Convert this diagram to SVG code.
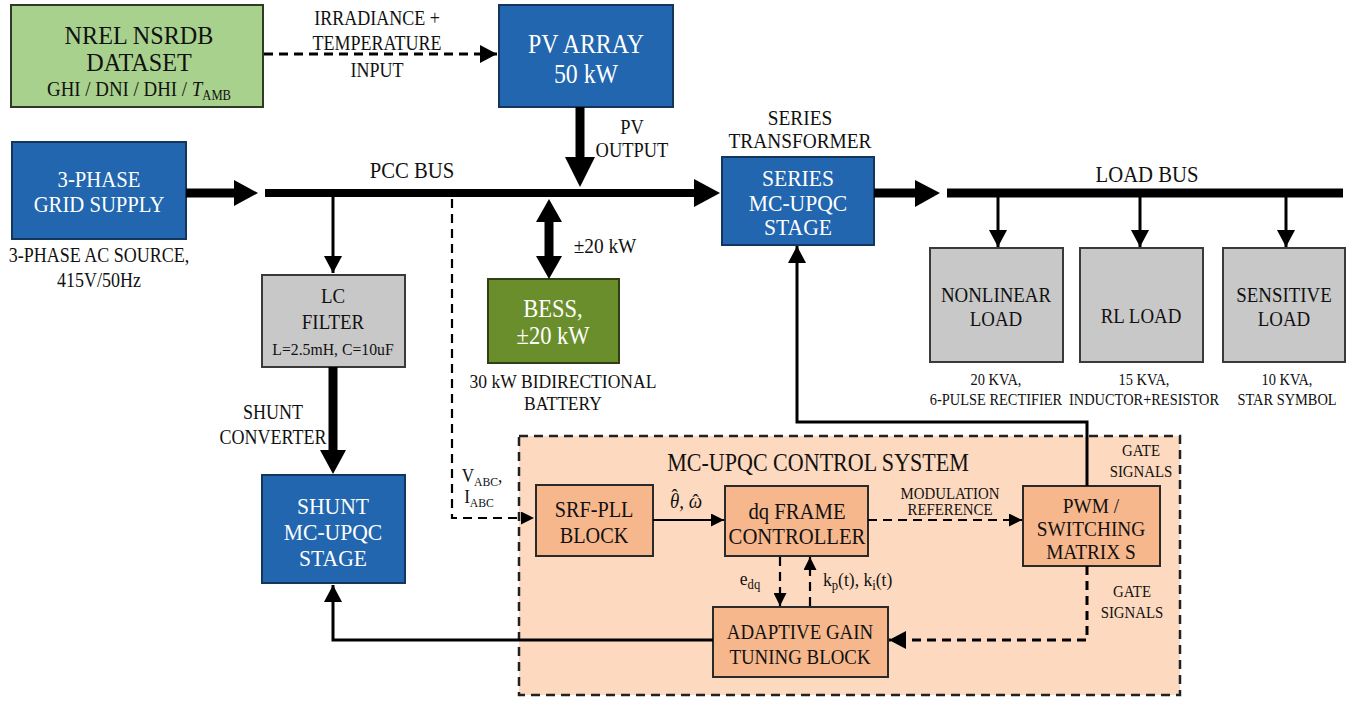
<svg xmlns="http://www.w3.org/2000/svg" width="1354" height="703" viewBox="0 0 1354 703">
<style>
.t{font-family:"Liberation Serif","Times New Roman",serif;fill:#111;text-anchor:middle}
.w{fill:#fff}
.blue{fill:#2166ae;stroke:#15365c;stroke-width:2}
.gray{fill:#c8c8c8;stroke:#3a3a3a;stroke-width:2}
.peach{fill:#f7b78c;stroke:#2a2a2a;stroke-width:2}
.ln{fill:none;stroke:#000}
.thick{stroke-width:9}
.thin{stroke-width:3}
.th2{stroke-width:2.2}
.dash{stroke-dasharray:9 6}
.hd{fill:#000}
</style>
<defs>
<marker id="ah" viewBox="0 0 17 18" refX="17" refY="9" markerWidth="17" markerHeight="18" markerUnits="userSpaceOnUse" orient="auto"><path d="M0,0 L17,9 L0,18 z" fill="#000"/></marker>
<marker id="as" viewBox="0 0 13 13" refX="13" refY="6.5" markerWidth="13" markerHeight="13" markerUnits="userSpaceOnUse" orient="auto"><path d="M0,0 L13,6.5 L0,13 z" fill="#000"/></marker>
</defs>
<rect width="1354" height="703" fill="#fff"/>

<g id="control-system">
<rect x="519" y="436" width="661" height="259" fill="#fdd9bf" stroke="#222" stroke-width="2.5" stroke-dasharray="9 6"/>
<text class="t" font-size="24.5" transform="translate(818,0) scale(.9,1)"><tspan x="0" y="471">MC-UPQC CONTROL SYSTEM</tspan></text>
</g>

<g id="nrel">
<rect x="11" y="5" width="252" height="102" fill="#a9d18e" stroke="#2e3a26" stroke-width="2"/>
<text class="t" font-size="26" transform="translate(139,0) scale(.93,1)"><tspan x="0" y="44">NREL NSRDB</tspan><tspan x="0" y="71">DATASET</tspan></text>
<text class="t" font-size="21" transform="translate(139,0) scale(.9,1)"><tspan x="0" y="96">GHI / DNI / DHI / <tspan font-style="italic">T</tspan><tspan font-size="14" dy="4">AMB</tspan></tspan></text>
</g>

<g id="pv-array">
<rect x="499" y="5" width="174" height="102" class="blue"/>
<text class="t w" font-size="26.5" transform="translate(586,0) scale(.9,1)"><tspan x="0" y="53">PV ARRAY</tspan><tspan x="0" y="83">50 kW</tspan></text>
</g>

<g id="grid">
<rect x="12" y="142" width="174" height="97" class="blue"/>
<text class="t w" font-size="23" transform="translate(99,0) scale(.9,1)"><tspan x="0" y="187">3-PHASE</tspan><tspan x="0" y="212">GRID SUPPLY</tspan></text>
<text class="t" font-size="20" transform="translate(99,0) scale(.9,1)"><tspan x="0" y="262">3-PHASE AC SOURCE,</tspan><tspan x="0" y="287">415V/50Hz</tspan></text>
</g>

<g id="series-stage">
<rect x="722" y="157" width="152" height="88" class="blue"/>
<text class="t w" font-size="24" transform="translate(798,0) scale(.9,1)"><tspan x="0" y="186">SERIES</tspan><tspan x="0" y="211">MC-UPQC</tspan><tspan x="0" y="235">STAGE</tspan></text>
<text class="t" font-size="21.5" transform="translate(800,0) scale(.9,1)"><tspan x="0" y="125">SERIES</tspan><tspan x="0" y="148">TRANSFORMER</tspan></text>
</g>

<g id="nonlinear-load">
<rect x="930" y="248" width="133" height="114" class="gray"/>
<text class="t" font-size="21" transform="translate(996,0) scale(.9,1)"><tspan x="0" y="302">NONLINEAR</tspan><tspan x="0" y="326">LOAD</tspan></text>
<text class="t" font-size="16" transform="translate(996,0) scale(.9,1)"><tspan x="0" y="385">20 KVA,</tspan><tspan x="0" y="405">6-PULSE RECTIFIER</tspan></text>
</g>

<g id="rl-load">
<rect x="1080" y="248" width="123" height="114" class="gray"/>
<text class="t" font-size="21" transform="translate(1141,0) scale(.9,1)"><tspan x="0" y="323">RL LOAD</tspan></text>
<text class="t" font-size="16" transform="translate(1144,0) scale(.9,1)"><tspan x="0" y="385">15 KVA,</tspan><tspan x="0" y="405">INDUCTOR+RESISTOR</tspan></text>
</g>

<g id="sensitive-load">
<rect x="1223" y="248" width="122" height="114" class="gray"/>
<text class="t" font-size="21" transform="translate(1284,0) scale(.9,1)"><tspan x="0" y="302">SENSITIVE</tspan><tspan x="0" y="326">LOAD</tspan></text>
<text class="t" font-size="16" transform="translate(1287,0) scale(.9,1)"><tspan x="0" y="385">10 KVA,</tspan><tspan x="0" y="405">STAR SYMBOL</tspan></text>
</g>

<g id="lc-filter">
<rect x="262" y="275" width="143" height="92" class="gray"/>
<text class="t" font-size="21" transform="translate(333,0) scale(.9,1)"><tspan x="0" y="303">LC</tspan><tspan x="0" y="329">FILTER</tspan></text>
<text class="t" font-size="17.5" transform="translate(333,0) scale(.9,1)"><tspan x="0" y="355">L=2.5mH, C=10uF</tspan></text>
</g>

<g id="shunt-stage">
<rect x="262" y="475" width="143" height="108" class="blue"/>
<text class="t w" font-size="24" transform="translate(333,0) scale(.9,1)"><tspan x="0" y="514">SHUNT</tspan><tspan x="0" y="540">MC-UPQC</tspan><tspan x="0" y="566">STAGE</tspan></text>
</g>

<g id="bess">
<rect x="488" y="279" width="131" height="84" fill="#6a8e2c" stroke="#2f3f16" stroke-width="2"/>
<text class="t w" font-size="25" transform="translate(553,0) scale(.9,1)"><tspan x="0" y="317">BESS,</tspan><tspan x="0" y="344">±20 kW</tspan></text>
<text class="t" font-size="19.5" transform="translate(563,0) scale(.9,1)"><tspan x="0" y="388">30 kW BIDIRECTIONAL</tspan><tspan x="0" y="410">BATTERY</tspan></text>
</g>

<g id="srf-pll">
<rect x="536" y="485" width="117" height="71" class="peach"/>
<text class="t" font-size="22.5" transform="translate(594,0) scale(.9,1)"><tspan x="0" y="517">SRF-PLL</tspan><tspan x="0" y="543">BLOCK</tspan></text>
</g>

<g id="dq-controller">
<rect x="725" y="486" width="143" height="70" class="peach"/>
<text class="t" font-size="23" transform="translate(797,0) scale(.9,1)"><tspan x="0" y="519">dq FRAME</tspan><tspan x="0" y="544">CONTROLLER</tspan></text>
</g>

<g id="pwm">
<rect x="1023" y="486" width="137" height="80" class="peach"/>
<text class="t" font-size="21.5" transform="translate(1091,0) scale(.9,1)"><tspan x="0" y="513">PWM /</tspan><tspan x="0" y="536">SWITCHING</tspan><tspan x="0" y="559">MATRIX S</tspan></text>
</g>

<g id="adaptive-gain">
<rect x="713" y="607" width="175" height="70" class="peach"/>
<text class="t" font-size="21" transform="translate(800,0) scale(.9,1)"><tspan x="0" y="639">ADAPTIVE GAIN</tspan><tspan x="0" y="664">TUNING BLOCK</tspan></text>
</g>

<g id="connectors">
<line x1="264" y1="54" x2="497" y2="54" class="ln thin dash" marker-end="url(#ah)"/>
<text class="t" font-size="20" transform="translate(377,0) scale(.9,1)"><tspan x="0" y="25">IRRADIANCE +</tspan><tspan x="0" y="50">TEMPERATURE</tspan><tspan x="0" y="77">INPUT</tspan></text>
<line x1="186" y1="193" x2="238" y2="193" class="ln thick"/>
<polygon points="234,180 258,193 234,206" class="hd"/>
<line x1="265" y1="193" x2="698" y2="193" class="ln" stroke-width="8"/>
<polygon points="694,179 720,193 694,207" class="hd"/>
<text class="t" font-size="23" transform="translate(412,0) scale(.9,1)"><tspan x="0" y="178">PCC BUS</tspan></text>
<line x1="580" y1="107" x2="580" y2="160" class="ln thick"/>
<polygon points="565,157 580,187 595,157" class="hd"/>
<text class="t" font-size="20.5" transform="translate(632,0) scale(.9,1)"><tspan x="0" y="134">PV</tspan><tspan x="0" y="157">OUTPUT</tspan></text>
<line x1="874" y1="193" x2="918" y2="193" class="ln thick"/>
<polygon points="915,180 940,193 915,207" class="hd"/>
<line x1="947" y1="193" x2="1343" y2="193" class="ln thick"/>
<text class="t" font-size="23" transform="translate(1147,0) scale(.9,1)"><tspan x="0" y="182">LOAD BUS</tspan></text>
<line x1="998" y1="197" x2="998" y2="247" class="ln thin" marker-end="url(#ah)"/>
<line x1="1140" y1="197" x2="1140" y2="247" class="ln thin" marker-end="url(#ah)"/>
<line x1="1286" y1="197" x2="1286" y2="247" class="ln thin" marker-end="url(#ah)"/>
<line x1="333" y1="197" x2="333" y2="273" class="ln thin" marker-end="url(#ah)"/>
<line x1="333" y1="367" x2="333" y2="452" class="ln thick"/>
<polygon points="320,450 333,474 346,450" class="hd"/>
<text class="t" font-size="20" transform="translate(273,0) scale(.9,1)"><tspan x="0" y="419">SHUNT</tspan><tspan x="0" y="444">CONVERTER</tspan></text>
<line x1="549" y1="220" x2="549" y2="259" class="ln thick"/>
<polygon points="536,222 549,199 562,222" class="hd"/>
<polygon points="536,256 549,279 562,256" class="hd"/>
<text class="t" font-size="21.5" transform="translate(605,0) scale(.9,1)"><tspan x="0" y="253">±20 kW</tspan></text>
<path d="M452,199 V518 H534" class="ln th2 dash" marker-end="url(#as)"/>
<text class="t" font-size="19" transform="translate(482,0) scale(.9,1)"><tspan x="0" y="482">V<tspan font-size="13" dy="4">ABC</tspan><tspan dy="-4">,</tspan></tspan></text>
<text class="t" font-size="19" transform="translate(479,0) scale(.9,1)"><tspan x="0" y="503">I<tspan font-size="13" dy="4">ABC</tspan></tspan></text>
<line x1="653" y1="520" x2="724" y2="520" class="ln th2" marker-end="url(#as)"/>
<text class="t" font-size="21" font-style="italic" transform="translate(686,0) scale(.9,1)"><tspan x="0" y="508">θ</tspan><tspan font-style="normal" dx="-8.75" dy="-4">ˆ</tspan><tspan dx="1.75" dy="4">, ω</tspan><tspan font-style="normal" dx="-10.5" dy="1">ˆ</tspan></text>
<line x1="868" y1="520" x2="1022" y2="520" class="ln th2 dash" marker-end="url(#as)"/>
<text class="t" font-size="16.5" transform="translate(950,0) scale(.9,1)"><tspan x="0" y="499">MODULATION</tspan><tspan x="0" y="515">REFERENCE</tspan></text>
<path d="M1087,486 V422 H797 V246" class="ln thin" marker-end="url(#ah)"/>
<text class="t" font-size="16.5" transform="translate(1141,0) scale(.9,1)"><tspan x="0" y="456">GATE</tspan><tspan x="0" y="477">SIGNALS</tspan></text>
<path d="M1087,566 V640 H889" class="ln thin dash" marker-end="url(#ah)"/>
<text class="t" font-size="16.5" transform="translate(1132,0) scale(.9,1)"><tspan x="0" y="597">GATE</tspan><tspan x="0" y="618">SIGNALS</tspan></text>
<line x1="780" y1="557" x2="780" y2="606" class="ln th2 dash" marker-end="url(#as)"/>
<line x1="810" y1="606" x2="810" y2="557" class="ln th2 dash" marker-end="url(#as)"/>
<text class="t" font-size="19.5" transform="translate(750,0) scale(.9,1)"><tspan x="0" y="585">e<tspan font-size="14" dy="4">dq</tspan></tspan></text>
<text class="t" font-size="19.5" style="text-anchor:start" transform="translate(823,0) scale(.9,1)"><tspan x="0" y="586">k<tspan font-size="14" dy="4">p</tspan><tspan dy="-4">(t), k</tspan><tspan font-size="14" dy="4">i</tspan><tspan dy="-4">(t)</tspan></tspan></text>
<path d="M713,640 H333 V585" class="ln thin" marker-end="url(#ah)"/>
</g>
</svg>
